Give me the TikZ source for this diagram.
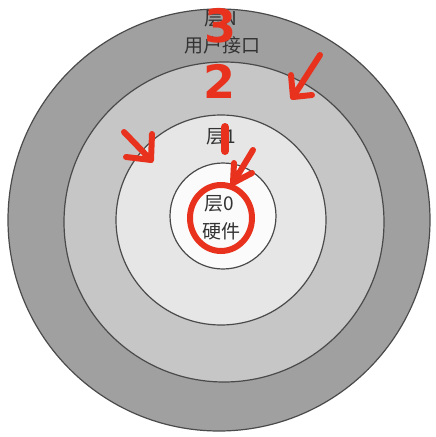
\documentclass[tikz,border=0pt]{standalone}
\usepackage{fontspec}
\usetikzlibrary{shapes.geometric}
\newfontfamily\cjk{Noto Sans CJK SC}
\newfontfamily\hand{DejaVu Sans}
\definecolor{ringA}{HTML}{A0A0A0}
\definecolor{ringB}{HTML}{C6C6C6}
\definecolor{ringC}{HTML}{E6E6E6}
\definecolor{ringD}{HTML}{FBFBFB}
\definecolor{edge}{HTML}{4A4A4A}
\definecolor{txt}{HTML}{333333}
\definecolor{mark}{HTML}{E8321E}
\tikzset{
  ring/.style={circle, draw=edge, line width=1.2pt, inner sep=0pt},
  label/.style={font=\cjk\fontsize{19}{19}\selectfont, text=txt, inner sep=0pt},
  num/.style={font=\hand\bfseries\fontsize{46}{46}\selectfont, text=mark, inner sep=0pt},
  pen/.style={draw=mark, line width=6pt, line cap=round, line join=round},
}
\begin{document}
\begin{tikzpicture}[x=1pt,y=-1pt]
\useasboundingbox[fill=white] (0,0) rectangle (436,437);
\node[ring, fill=ringA, minimum size=422pt] (r3) at (219,220) {};
\node[ring, fill=ringB, minimum size=320pt] (r2) at (224,222) {};
\node[ring, fill=ringC, minimum size=210pt] (r1) at (221,220) {};
\node[ring, fill=ringD, minimum size=106pt] (r0) at (223,216) {};
\node[label] (tN) at (221,19) {层N};
\node[label] (tU) at (222,45) {用户接口};
\node[label] (t1) at (221,137) {层1};
\node[label] (t0) at (219,204) {层0};
\node[label] (tH) at (221,231) {硬件};
% annotations
\node[num] (n3) at (221,26) {3};
\node[num] (n2) at (220,81) {2};
\coordinate (s1a) at (225,127);
\coordinate (s1b) at (225,151);
\draw[pen, line width=8pt] (s1a) -- (s1b);
\coordinate (a1t) at (320,55);
\coordinate (a1h) at (293,97);
\draw[pen] (a1t) -- (a1h) -- ++(-2,-22);
\draw[pen] (a1h) -- ++(19,-2);
\coordinate (a2t) at (124,132);
\coordinate (a2h) at (151,160);
\draw[pen] (a2t) -- (a2h) -- ++(1,-26);
\draw[pen] (a2h) -- ++(-25,-3);
\coordinate (a3t) at (253,150);
\coordinate (a3h) at (233,183);
\draw[pen] (a3t) -- (a3h) -- ++(1,-20);
\draw[pen] (a3h) -- ++(19,-10);
\node[draw=mark, line width=6pt, ellipse, minimum width=62pt, minimum height=66pt, inner sep=0pt] (rc) at (221,218) {};
\end{tikzpicture}
\end{document}
